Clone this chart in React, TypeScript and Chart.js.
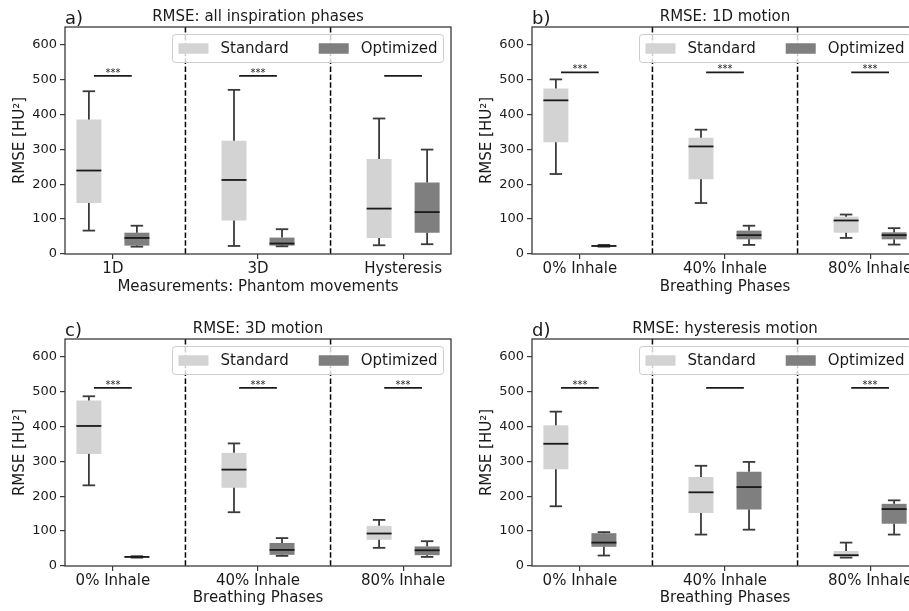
import React, { useEffect, useRef } from "react";
import { Chart, registerables } from "chart.js";

Chart.register(...registerables);

const FONT = "'DejaVu Sans', sans-serif";
const TEXT = "#1a1a1a";
const STD_COLOR = "#d3d3d3";
const OPT_COLOR = "#7f7f7f";
const WHISKER = "#3a3a3a";
const MEDIAN = "#1a1a1a";
const FRAME = "#3a3a3a";

// categories / tick labels
const movements = ["1D", "3D", "Hysteresis"];
const phases = ["0% Inhale", "40% Inhale", "80% Inhale"];
const seriesNames = ["Standard", "Optimized"];
const yMin = 0;
const yMax = 650;
const yStep = 100;
const yTitle = "RMSE [HU²]";

// five-number summaries per category: [whisker low, Q1, median, Q3, whisker high]
const allStandard = [[67, 146, 239, 385, 466], [23, 96, 212, 324, 470], [25, 46, 130, 272, 388]];
const allOptimized = [[21, 24, 46, 61, 81], [22, 24, 30, 47, 71], [28, 61, 120, 205, 299]];
const allStars = ["***", "***", ""];
const allSigLevel = 510;

const m1dStandard = [[229, 320, 440, 474, 500], [146, 214, 308, 333, 356], [46, 61, 96, 107, 113]];
const m1dOptimized = [[21, 22, 23, 25, 26], [26, 42, 54, 67, 81], [27, 42, 54, 62, 74]];
const m1dStars = ["***", "***", "***"];
const m1dSigLevel = 520;

const m3dStandard = [[231, 321, 401, 474, 486], [154, 224, 276, 324, 351], [52, 75, 93, 115, 132]];
const m3dOptimized = [[24, 25, 26, 27, 28], [29, 32, 46, 66, 80], [26, 31, 45, 56, 71]];
const m3dStars = ["***", "***", "***"];
const m3dSigLevel = 510;

const hystStandard = [[171, 277, 350, 403, 442], [90, 152, 211, 255, 287], [24, 26, 31, 43, 67]];
const hystOptimized = [[30, 55, 67, 94, 97], [104, 162, 226, 270, 298], [90, 121, 163, 178, 188]];
const hystStars = ["***", "", "***"];
const hystSigLevel = 510;

const SIG_HALF = 0.13;

type PanelSpec = {
  letter: string;
  title: string;
  xTitle: string;
  categories: string[];
  standard: number[][];
  optimized: number[][];
  stars: string[];
  sigLevel: number;
  left: number;
  top: number;
  height: number;
  xAxisHeight: number;
};

const PANEL_W = 460;

const panels: PanelSpec[] = [
  { letter: "a)", title: "RMSE: all inspiration phases", xTitle: "Measurements: Phantom movements", categories: movements, standard: allStandard, optimized: allOptimized, stars: allStars, sigLevel: allSigLevel, left: 0, top: 0, height: 300, xAxisHeight: 46 },
  { letter: "b)", title: "RMSE: 1D motion", xTitle: "Breathing Phases", categories: phases, standard: m1dStandard, optimized: m1dOptimized, stars: m1dStars, sigLevel: m1dSigLevel, left: 467, top: 0, height: 300, xAxisHeight: 46 },
  { letter: "c)", title: "RMSE: 3D motion", xTitle: "Breathing Phases", categories: phases, standard: m3dStandard, optimized: m3dOptimized, stars: m3dStars, sigLevel: m3dSigLevel, left: 0, top: 312, height: 299, xAxisHeight: 45 },
  { letter: "d)", title: "RMSE: hysteresis motion", xTitle: "Breathing Phases", categories: phases, standard: hystStandard, optimized: hystOptimized, stars: hystStars, sigLevel: hystSigLevel, left: 467, top: 312, height: 299, xAxisHeight: 45 },
];

function seg(ctx: CanvasRenderingContext2D, x1: number, y1: number, x2: number, y2: number) {
  ctx.beginPath();
  ctx.moveTo(x1, y1);
  ctx.lineTo(x2, y2);
  ctx.stroke();
}

function makeExtras(p: PanelSpec) {
  return {
    id: "boxExtras",
    afterDatasetsDraw(chart: any) {
      const ctx: CanvasRenderingContext2D = chart.ctx;
      const xs = chart.scales.x;
      const ys = chart.scales.y;
      const a = chart.chartArea;
      const py = (v: number) => ys.getPixelForValue(v);
      ctx.save();
      ctx.beginPath();
      ctx.rect(a.left, a.top, a.right - a.left, a.bottom - a.top);
      ctx.clip();
      [p.standard, p.optimized].forEach((stats, d) => {
        const meta = chart.getDatasetMeta(d);
        meta.data.forEach((el: any, i: number) => {
          const s = stats[i];
          const cx = el.x;
          const w = el.width;
          ctx.lineCap = "butt";
          ctx.strokeStyle = WHISKER;
          ctx.lineWidth = 1.8;
          seg(ctx, cx, py(s[0]), cx, py(s[1]));
          seg(ctx, cx, py(s[3]), cx, py(s[4]));
          seg(ctx, cx - w / 4, py(s[0]), cx + w / 4, py(s[0]));
          seg(ctx, cx - w / 4, py(s[4]), cx + w / 4, py(s[4]));
          ctx.strokeStyle = MEDIAN;
          ctx.lineWidth = 1.8;
          seg(ctx, cx - w / 2, py(s[2]), cx + w / 2, py(s[2]));
        });
      });
      // category separators
      ctx.strokeStyle = "#000";
      ctx.lineWidth = 1.5;
      ctx.setLineDash([5.5, 2.4]);
      for (let i = 0; i < p.categories.length - 1; i++) {
        const px = xs.getPixelForValue(i + 0.5);
        seg(ctx, px, a.top, px, a.bottom);
      }
      ctx.setLineDash([]);
      // significance bars
      const sy = py(p.sigLevel);
      p.stars.forEach((st, i) => {
        ctx.strokeStyle = TEXT;
        ctx.lineWidth = 1.8;
        seg(ctx, xs.getPixelForValue(i - SIG_HALF), sy, xs.getPixelForValue(i + SIG_HALF), sy);
        if (st) {
          ctx.fillStyle = TEXT;
          ctx.font = `10px ${FONT}`;
          ctx.textAlign = "center";
          ctx.textBaseline = "alphabetic";
          ctx.fillText(st, xs.getPixelForValue(i), sy);
        }
      });
      ctx.restore();
      ctx.save();
      ctx.strokeStyle = FRAME;
      ctx.lineWidth = 1.3;
      ctx.strokeRect(a.left, a.top, a.right - a.left, a.bottom - a.top);
      ctx.restore();
    },
    afterDraw(chart: any) {
      const ctx: CanvasRenderingContext2D = chart.ctx;
      const a = chart.chartArea;
      ctx.save();
      // legend
      const fs = 15;
      ctx.font = `${fs}px ${FONT}`;
      const pad = 0.4 * fs, hl = 2 * fs, hh = 0.7 * fs, htp = 0.8 * fs, cs = 2 * fs;
      const colors = [STD_COLOR, OPT_COLOR];
      const widths = seriesNames.map((n) => ctx.measureText(n).width);
      const boxW = pad * 2 + widths.reduce((s, w) => s + hl + htp + w, 0) + cs * (seriesNames.length - 1);
      const boxH = 28;
      const right = a.right - 0.5 * fs;
      const top = a.top + 0.5 * fs;
      const left = right - boxW;
      ctx.beginPath();
      (ctx as any).roundRect(left, top, boxW, boxH, 3);
      ctx.fillStyle = "rgba(255,255,255,0.8)";
      ctx.fill();
      ctx.strokeStyle = "#cccccc";
      ctx.lineWidth = 1;
      ctx.stroke();
      const cy = top + boxH / 2;
      let x = left + pad;
      seriesNames.forEach((n, i) => {
        ctx.fillStyle = colors[i];
        ctx.fillRect(x, cy - hh / 2, hl, hh);
        x += hl + htp;
        ctx.fillStyle = TEXT;
        ctx.textAlign = "left";
        ctx.textBaseline = "middle";
        ctx.fillText(n, x, cy + 1);
        x += widths[i] + cs;
      });
      // title and panel letter
      ctx.fillStyle = TEXT;
      ctx.font = `15px ${FONT}`;
      ctx.textAlign = "center";
      ctx.textBaseline = "alphabetic";
      ctx.fillText(p.title, (a.left + a.right) / 2, a.top - 6.5);
      ctx.font = `18px ${FONT}`;
      ctx.textAlign = "left";
      ctx.fillText(p.letter, a.left, a.top - 3.5);
      ctx.restore();
    },
  };
}

function buildConfig(p: PanelSpec): any {
  const n = p.categories.length;
  const mkData = (stats: number[][]) => stats.map((s, i) => ({ x: i, y: [s[1], s[3]] }));
  return {
    type: "bar",
    data: {
      datasets: [
        { label: seriesNames[0], data: mkData(p.standard), backgroundColor: STD_COLOR, borderWidth: 0, categoryPercentage: 0.662, barPercentage: 0.52 },
        { label: seriesNames[1], data: mkData(p.optimized), backgroundColor: OPT_COLOR, borderWidth: 0, categoryPercentage: 0.662, barPercentage: 0.52 },
      ],
    },
    options: {
      animation: false,
      responsive: true,
      maintainAspectRatio: false,
      devicePixelRatio: 1,
      layout: { padding: { left: 7, right: 9, top: 27, bottom: 0 } },
      plugins: {
        legend: { display: false },
        tooltip: { enabled: false },
        title: { display: false },
      },
      scales: {
        x: {
          type: "linear",
          min: -0.33,
          max: n - 1 + 0.33,
          offset: false,
          afterBuildTicks: (ax: any) => {
            ax.ticks = p.categories.map((_, i) => ({ value: i }));
          },
          afterFit: (ax: any) => {
            ax.height = p.xAxisHeight;
          },
          grid: { display: true, offset: false, drawOnChartArea: false, drawTicks: true, tickLength: 5, color: FRAME, lineWidth: 1.2 },
          border: { display: false },
          ticks: {
            callback: (v: number) => p.categories[v] ?? "",
            font: { family: FONT, size: 15 },
            color: TEXT,
            padding: 1,
            maxRotation: 0,
            autoSkip: false,
          },
          title: { display: true, text: p.xTitle, font: { family: FONT, size: 15 }, color: TEXT, padding: { top: 0, bottom: 4 } },
        },
        y: {
          min: yMin,
          max: yMax,
          afterFit: (ax: any) => {
            ax.width = 58;
          },
          grid: { display: true, drawOnChartArea: false, drawTicks: true, tickLength: 5, color: FRAME, lineWidth: 1.2 },
          border: { display: false },
          ticks: { stepSize: yStep, includeBounds: false, font: { family: FONT, size: 13 }, color: TEXT, padding: 3 },
          title: { display: true, text: yTitle, font: { family: FONT, size: 15 }, color: TEXT, padding: { top: 4, bottom: 4 } },
        },
      },
    },
    plugins: [makeExtras(p)],
  };
}

function Panel({ p }: { p: PanelSpec }) {
  const ref = useRef<HTMLCanvasElement>(null);
  useEffect(() => {
    const chart = new Chart(ref.current as HTMLCanvasElement, buildConfig(p));
    return () => chart.destroy();
  }, [p]);
  return (
    <div style={{ position: "absolute", left: p.left, top: p.top, width: PANEL_W, height: p.height }}>
      <canvas ref={ref} />
    </div>
  );
}

export default function App() {
  return (
    <div style={{ position: "fixed", left: 0, top: 0, width: 909, height: 611, overflow: "hidden", background: "#fff" }}>
      {panels.map((p) => (
        <Panel key={p.letter} p={p} />
      ))}
    </div>
  );
}
